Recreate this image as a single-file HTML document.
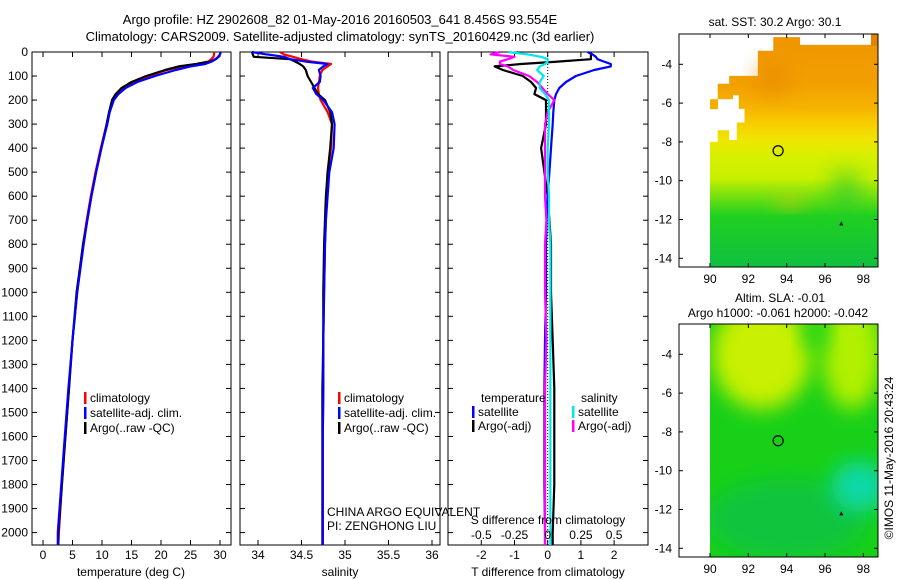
<!DOCTYPE html>
<html><head><meta charset="utf-8"><style>
html,body{margin:0;padding:0;background:#fff;}
svg{display:block;font-family:"Liberation Sans",sans-serif;}
</style></head><body>
<svg id="fig" width="900" height="580" viewBox="0 0 900 580" xmlns="http://www.w3.org/2000/svg">
<defs>
<linearGradient id="sstgrad" x1="0" y1="34" x2="0" y2="267" gradientUnits="userSpaceOnUse">
<stop offset="0" stop-color="#f09400"/><stop offset="0.22" stop-color="#f2a000"/><stop offset="0.32" stop-color="#f6b400"/>
<stop offset="0.38" stop-color="#f8cc00"/><stop offset="0.45" stop-color="#f0e400"/><stop offset="0.52" stop-color="#d8f000"/>
<stop offset="0.62" stop-color="#c8f000"/><stop offset="0.7" stop-color="#70e010"/><stop offset="0.78" stop-color="#20d020"/><stop offset="1" stop-color="#10c040"/>
</linearGradient>
<filter id="blur" x="-50%" y="-50%" width="200%" height="200%"><feGaussianBlur stdDeviation="10"/></filter>
<clipPath id="m2clip"><rect x="710" y="324" width="168" height="233"/></clipPath>
</defs>
<text x="340" y="24" font-size="13" text-anchor="middle">Argo profile: HZ 2902608_82 01-May-2016 20160503_641 8.456S 93.554E</text>
<text x="340" y="41" font-size="13" text-anchor="middle">Climatology: CARS2009. Satellite-adjusted climatology: synTS_20160429.nc (3d earlier)</text>
<g id="plots"></g>
</svg>
<script>
// ---------- data ----------
const depthTicks = [0,100,200,300,400,500,600,700,800,900,1000,1100,1200,1300,1400,1500,1600,1700,1800,1900,2000];
const tempTicks = [0,5,10,15,20,25,30];
const salTicks = [34,34.5,35,35.5,36];
const salTickLabels = ["34","34.5","35","35.5","36"];
const tdiffTicks = [-2,-1,0,1,2];
const sdiffTicks = [-0.5,-0.25,0,0.25,0.5];
const sdiffTickLabels = ["-0.5","-0.25","0","0.25","0.5"];

const depths = [0,10,20,30,40,50,60,75,100,125,150,175,200,250,300,400,500,600,700,800,1000,1200,1400,1600,1800,2000,2055];
const tempClim = [29.0,29.0,28.9,28.5,28.0,26.0,23.5,21.0,18.0,15.5,13.5,12.4,11.8,11.2,10.8,9.8,8.9,8.1,7.4,6.8,5.8,5.0,4.4,3.8,3.2,2.7,2.6];
const tempSat = [30.1,30.0,29.8,29.3,28.6,27.5,25.0,22.5,19.0,16.0,14.0,12.8,12.0,11.3,10.9,9.9,9.0,8.2,7.5,6.9,5.8,5.0,4.3,3.7,3.1,2.5,2.5];
const tempArgo = [30.1,30.0,29.7,29.2,28.3,26.0,23.0,20.7,17.5,15.0,13.3,12.3,11.7,11.2,10.8,9.9,9.0,8.2,7.5,6.8,5.7,5.0,4.4,3.8,3.2,2.6,2.6];

const salClim = [34.25,34.3,34.4,34.5,34.62,34.84,34.8,34.74,34.71,34.70,34.69,34.7,34.72,34.8,34.85,34.84,34.8,34.79,34.78,34.77,34.76,34.75,34.75,34.745,34.745,34.745,34.745];
const salSat = [33.93,34.1,34.3,34.37,34.55,34.8,34.75,34.7,34.72,34.71,34.63,34.67,34.75,34.85,34.88,34.87,34.82,34.8,34.78,34.77,34.76,34.75,34.75,34.745,34.745,34.745,34.745];
const salArgo = [33.93,33.94,33.95,34.37,34.43,34.48,34.52,34.55,34.57,34.61,34.65,34.69,34.77,34.83,34.85,34.83,34.8,34.78,34.77,34.76,34.75,34.75,34.74,34.74,34.74,34.74,34.74];

const tdiffSat = [1.2,1.35,1.45,1.5,1.7,1.9,1.9,1.4,0.85,0.55,0.35,0.25,0.2,0.17,0.15,0.1,0.05,0.0,-0.03,-0.05,-0.05,-0.08,-0.1,-0.1,-0.1,-0.08,-0.08];
const tdiffArgo = [1.3,1.3,1.3,1.3,0.3,-0.8,-1.6,-1.35,-0.75,-0.5,-0.35,-0.4,-0.05,-0.05,-0.05,-0.2,-0.1,0.0,0.05,0.1,0.1,0.15,0.2,0.2,0.2,0.15,0.15];
const sdiffSat = [-0.3,-0.15,-0.05,0.0,0.0,-0.02,-0.06,-0.08,-0.03,-0.06,-0.06,-0.02,0.01,0.01,0.01,0.0,0.0,0.01,0.01,0.02,0.02,0.02,0.02,0.02,0.02,0.02,0.02];
const sdiffArgo = [-0.36,-0.43,-0.25,-0.3,-0.36,-0.36,-0.3,-0.26,-0.14,-0.08,-0.04,0.0,0.05,0.0,-0.02,-0.02,-0.02,-0.02,-0.01,-0.02,-0.02,-0.01,-0.02,-0.02,-0.02,-0.02,-0.02];

const mapLonTicks = [90,92,94,96,98];
const mapLatTicks = [-4,-6,-8,-10,-12,-14];
const argoLon = 93.554, argoLat = -8.456;

// ---------- helpers ----------
const NS = "http://www.w3.org/2000/svg";
const root = document.getElementById('plots');
function el(tag, attrs, parent){ const e=document.createElementNS(NS,tag); for(const k in attrs) e.setAttribute(k,attrs[k]); (parent||root).appendChild(e); return e; }
function txt(x,y,s,size,anchor,parent){ const t=el('text',{x:x,y:y,'font-size':size,'text-anchor':anchor||'start'},parent); t.textContent=s; return t; }

const TOP=52, BOT=545;
const yD = d => TOP + d*0.2403;

function panel(name,x0,x1){
  const g=el('g',{});
  
  
  const r=el('rect',{x:x0,y:TOP,width:x1-x0,height:BOT-TOP,fill:'none',stroke:'#000','stroke-width':1},g);
  
  
  depthTicks.forEach(d=>{
    el('line',{x1:x0,y1:yD(d),x2:x0+5,y2:yD(d),stroke:'#000'},g);
    el('line',{x1:x1,y1:yD(d),x2:x1-5,y2:yD(d),stroke:'#000'},g);
  });
  return g;
}
function xticks(g,vals,labels,xf,ylab){
  vals.forEach((v,i)=>{
    const x=xf(v);
    el('line',{x1:x,y1:BOT,x2:x,y2:BOT-5,stroke:'#000'},g);
    el('line',{x1:x,y1:TOP,x2:x,y2:TOP+5,stroke:'#000'},g);
    const t=txt(x,ylab,labels[i],12,'middle',g);
    
    
  });
}
function line(g,vals,xf,color,name,w){
  const pts=vals.map((v,i)=>xf(v).toFixed(1)+','+Math.min(BOT,yD(depths[i])).toFixed(1)).join(' ');
  const p=el('polyline',{points:pts,fill:'none',stroke:color,'stroke-width':w||2.2,'stroke-linejoin':'round'},g);
  
  
}
function legend(g,x,y,color,label){
  el('rect',{x:x,y:y-10,width:2.5,height:12,fill:color},g);
  const t=txt(x+6,y,label,12,'start',g);
  
  
}

// ---------- panel 1: temperature ----------
const xT = v => 43 + v*5.9;
const g1=panel('temperature-panel',32,231);
depthTicks.forEach(d=>{ const t=txt(28,yD(d)+4,String(d),12,'end',g1);
  
   });
xticks(g1,tempTicks,tempTicks.map(String),xT,559);
line(g1,tempClim,xT,'#ff0000','temp-clim-line');
line(g1,tempArgo,xT,'#000000','temp-argo-line');
line(g1,tempSat,xT,'#0000ff','temp-sat-line');
const t1=txt(131,576,'temperature (deg C)',12,'middle',g1);


legend(g1,84,402,'#ff0000','climatology');
legend(g1,84,417,'#0000ff','satellite-adj. clim.');
legend(g1,84,432,'#000000','Argo(..raw -QC)');

// ---------- panel 2: salinity ----------
const xS = v => 258 + (v-34)*87;
const g2=panel('salinity-panel',240,440);
xticks(g2,salTicks,salTickLabels,xS,559);
line(g2,salClim,xS,'#ff0000','sal-clim-line');
line(g2,salArgo,xS,'#000000','sal-argo-line');
line(g2,salSat,xS,'#0000ff','sal-sat-line');
const t2=txt(340,576,'salinity',12,'middle',g2);


legend(g2,338,402,'#ff0000','climatology');
legend(g2,338,417,'#0000ff','satellite-adj. clim.');
legend(g2,338,432,'#000000','Argo(..raw -QC)');
const c1=txt(327,516,'CHINA ARGO EQUIVALENT',12,'start',g2);


const c2=txt(327,530,'PI: ZENGHONG LIU',12,'start',g2);



// ---------- panel 3: differences ----------
const xTD = v => 547.7 + v*33.2;
const xSD = v => 547.7 + v*132.8;
const g3=panel('difference-panel',448,648);
xticks(g3,tdiffTicks,tdiffTicks.map(String),xTD,559);
el('line',{x1:xTD(0),y1:TOP,x2:xTD(0),y2:BOT,stroke:'#000','stroke-dasharray':'1,2'},g3);
line(g3,tdiffArgo,xTD,'#000000','tdiff-argo-line');
line(g3,tdiffSat,xTD,'#0000ff','tdiff-sat-line');
line(g3,sdiffArgo,xSD,'#ff00ff','sdiff-argo-line');
line(g3,sdiffSat,xSD,'#00e8e8','sdiff-sat-line');
sdiffTicks.forEach((v,i)=>{ const t=txt(xSD(v),539,sdiffTickLabels[i],12,'middle',g3);
  
   });
const s3=txt(548,524,'S difference from climatology',12,'middle',g3);


const t3=txt(548,576,'T difference from climatology',12,'middle',g3);


const lt=txt(481,402,'temperature',12,'start',g3);


const ls=txt(581,402,'salinity',12,'start',g3);


legend(g3,472,416,'#0000ff','satellite');
legend(g3,472,430,'#000000','Argo(-adj)');
legend(g3,572,416,'#00e8e8','satellite');
legend(g3,572,430,'#ff00ff','Argo(-adj)');

// ---------- maps ----------
function mapAxes(name){
  const g=el('g',{});
  
  
  return g;
}
const lonX = lon => 710 + (lon-90)*19.17;
const latY1 = lat => 64.3 + (-4-lat)*19.4;
const latY2 = lat => 354.3 + (-4-lat)*19.4;
function frameMap(g,top,bottom,latY){
  const r=el('rect',{x:679,y:top,width:199,height:bottom-top,fill:'none',stroke:'#000'},g);
  
  
  mapLonTicks.forEach(l=>{ const x=lonX(l);
    el('line',{x1:x,y1:bottom,x2:x,y2:bottom-4,stroke:'#000'},g);
    el('line',{x1:x,y1:top,x2:x,y2:top+4,stroke:'#000'},g);
    const t=txt(x,bottom+16,String(l),12,'middle',g);
    
     });
  mapLatTicks.forEach(l=>{ const y=latY(l);
    el('line',{x1:679,y1:y,x2:683,y2:y,stroke:'#000'},g);
    el('line',{x1:878,y1:y,x2:874,y2:y,stroke:'#000'},g);
    const t=txt(672,y+4,String(l),12,'end',g);
    
     });
  const c=el('circle',{cx:lonX(argoLon),cy:latY(argoLat),r:5,fill:'none',stroke:'#000','stroke-width':1.2},g);
  
  
  el('path',{d:`M${lonX(96.85)-2},${latY(-12.2)+2} l2,-4 l2,4 z`,fill:'#000'},g);
}
// SST map
const m1=mapAxes('sst-map');
const cov=[[93.3,-2.6],[94.7,-2.6],[94.7,-3.0],[98.4,-3.0],[98.4,-2.44],[98.75,-2.44],[98.75,-14.45],[90,-14.45],[90,-8.0],[90.4,-8.0],[90.4,-7.4],[91,-7.4],[91,-7.9],[91.4,-7.9],[91.4,-7.0],[91.8,-7.0],[91.8,-6.3],[91.5,-6.3],[91.5,-5.6],[91.2,-5.6],[91.2,-5.8],[90.4,-5.8],[90.4,-5.0],[91,-5.0],[91,-4.6],[92.5,-4.6],[92.5,-3.3],[93.3,-3.3]];
const sst=el('polygon',{points:cov.map(p=>lonX(p[0]).toFixed(1)+','+latY1(p[1]).toFixed(1)).join(' '),fill:'url(#sstgrad)'},m1);


el('rect',{x:lonX(90),y:latY1(-5.8),width:8,height:10,fill:'#f4b000'},m1);
el('rect',{x:lonX(98.4),y:latY1(-2.44),width:7,height:12,fill:'#e88000'},m1);
el('rect',{x:lonX(92.5),y:latY1(-4),width:30,height:30,fill:'#e88800',opacity:0.6,filter:'url(#blur)'},m1);
el('rect',{x:lonX(93.5),y:latY1(-10.8),width:25,height:12,fill:'#f8c000',opacity:0.6,filter:'url(#blur)'},m1);
el('rect',{x:lonX(96.3),y:latY1(-9.5),width:30,height:40,fill:'#20c830',opacity:0.5,filter:'url(#blur)'},m1);
frameMap(m1,34,267,latY1);
const mt1=txt(775,26,'sat. SST: 30.2 Argo: 30.1',12,'middle',m1);



// SLA map
const m2=mapAxes('sla-map');
const gf=el('g',{'clip-path':'url(#m2clip)'},m2);
const base=el('rect',{x:710,y:324,width:168,height:233,fill:'#18d018'},gf);


el('ellipse',{cx:lonX(92.7),cy:latY2(-4.0),rx:50,ry:55,fill:'#c8f000',filter:'url(#blur)'},gf);
el('ellipse',{cx:lonX(97.4),cy:latY2(-4.0),rx:30,ry:55,fill:'#b0f000',filter:'url(#blur)'},gf);
el('ellipse',{cx:lonX(95.5),cy:latY2(-3.0),rx:12,ry:18,fill:'#30d818',filter:'url(#blur)'},gf);
el('ellipse',{cx:lonX(94),cy:latY2(-12.5),rx:80,ry:40,fill:'#10c050',opacity:0.7,filter:'url(#blur)'},gf);
el('ellipse',{cx:lonX(97.8),cy:latY2(-10.8),rx:28,ry:25,fill:'#10d8a8',filter:'url(#blur)'},gf);
frameMap(m2,324,557,latY2);
const mt2=txt(780,302,'Altim. SLA: -0.01',12,'middle',m2);


const mt3=txt(778,317,'Argo h1000: -0.061 h2000: -0.042',12,'middle',m2);


const cr=txt(0,0,'©IMOS 11-May-2016 20:43:24',12,'middle',m2);
cr.setAttribute('transform','translate(893,458) rotate(-90)');


</script>
</body></html>
